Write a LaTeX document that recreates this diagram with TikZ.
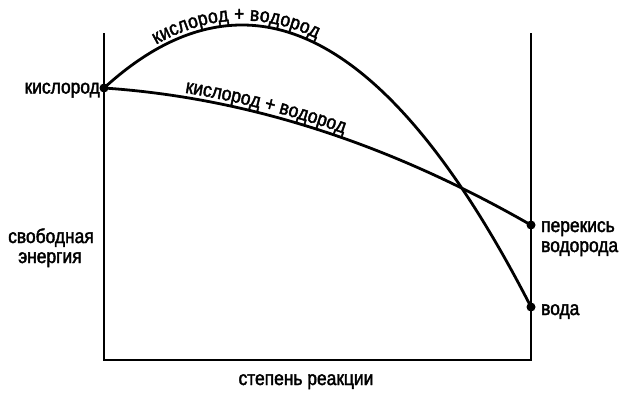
\documentclass[tikz,border=0pt]{standalone}
\usepackage{fontspec}
\setmainfont[FakeStretch=0.87,FakeBold=2]{Liberation Sans}
\usetikzlibrary{decorations.text}
\newcommand\lblfont{\fontsize{20}{24}\selectfont}
\begin{document}
\begin{tikzpicture}[x=1pt,y=-1pt,
  axisline/.style={line width=2.8pt},
  curveline/.style={line width=2.8pt},
  dotmark/.style={circle,fill=black,inner sep=0pt,minimum size=9pt},
  lbl/.style={font=\lblfont,inner sep=0pt},
  pathlbl/.style={decorate,decoration={text along path,
      text={|\lblfont|кислород + водород},text align=center,raise=4.5pt}},
]
\useasboundingbox (0,0) rectangle (633,400);
% axes
\coordinate (tl) at (104,33);
\coordinate (bl) at (104,360);
\coordinate (br) at (531,360);
\coordinate (tr) at (531,33);
\draw[axisline] (tl) -- (bl) -- (br) -- (tr);
% upper curve (oxygen + hydrogen -> water)
\draw[curveline] plot[domain=104:242,samples=60] (\x,{25+33.1*((\x-242)/100)^2})
  -- plot[domain=242:531,samples=120] (\x,{25+33.76*((\x-242)/100)^2});
% lower curve (oxygen + hydrogen -> peroxide)
\draw[curveline] plot[domain=104:531,samples=120] (\x,{88+0.0673*(\x-104)+5.94*((\x-104)/100)^2});
% labels along curves
\path[pathlbl] plot[domain=130:344,samples=80] (\x,{25+33.4*((\x-242)/100)^2});
\path[pathlbl] plot[domain=172:354,samples=80] (\x,{88+0.0673*(\x-104)+5.94*((\x-104)/100)^2});
% dots
\node[dotmark] (o2) at (104,88) {};
\node[dotmark] (h2o2) at (531,225) {};
\node[dotmark] (h2o) at (531,307) {};
% text labels
\node[lbl,anchor=base east] (lo2) at (100,93.5) {кислород};
\node[lbl,anchor=base] (lg1) at (51,243) {свободная};
\node[lbl,anchor=base] (lg2) at (50,263) {энергия};
\node[lbl,anchor=base west] (lp1) at (541,232) {перекись};
\node[lbl,anchor=base west] (lp2) at (541,252) {водорода};
\node[lbl,anchor=base west] (lw) at (541,315) {вода};
\node[lbl,anchor=base] (lx) at (306,385) {степень реакции};
\end{tikzpicture}
\end{document}
